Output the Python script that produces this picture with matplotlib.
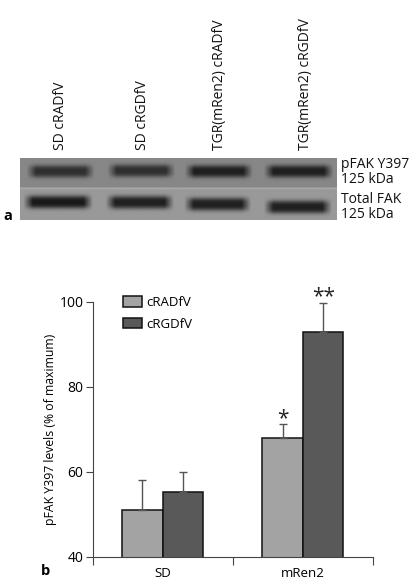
import numpy as np
import matplotlib
matplotlib.use("Agg")
import matplotlib.pyplot as plt

plt.rcParams["font.family"] = ["Open Sans", "DejaVu Sans"]

W, H = 418, 585

lane_labels = ["SD cRADfV", "SD cRGDfV", "TGR(mRen2) cRADfV", "TGR(mRen2) cRGDfV"]
blot_labels = ["pFAK Y397\n125 kDa", "Total FAK\n125 kDa"]
# band extents in blot fractions, darkness 0-1
band_start_p = [0.02, 0.275, 0.52, 0.77]
band_end_p = [0.235, 0.49, 0.735, 0.99]
band_dark_p = [0.8, 0.8, 0.95, 0.95]
band_mid_p = [0.43, 0.41, 0.43, 0.43]
band_start_t = [0.01, 0.27, 0.518, 0.77]
band_end_t = [0.23, 0.486, 0.73, 0.985]
band_dark_t = [1.0, 0.95, 0.95, 0.95]
band_mid_t = [0.42, 0.43, 0.49, 0.58]

groups = ["SD", "mRen2"]
cradfv = [51, 68]
crgdfv = [55.3, 92.8]
cradfv_err = [7, 3.3]
crgdfv_err = [4.7, 7]
stars = ["*", "**"]


def px_ax(x0, y0, x1, y1):
    return fig.add_axes([x0 / W, 1 - y1 / H, (x1 - x0) / W, (y1 - y0) / H])


def band_image(rows, cols, mids, half, starts, ends, darks):
    xx = np.linspace(0, 1, cols)
    yy = np.linspace(0, 1, rows)
    img = np.zeros((rows, cols))
    for s, e, d, m in zip(starts, ends, darks, mids):
        prof = np.clip((xx - s) / 0.03, 0, 1) * np.clip((e - xx) / 0.03, 0, 1)
        img += d * np.outer(np.exp(-(np.abs(yy - m) / half) ** 3), prof)
    return img


fig = plt.figure(figsize=(W / 100, H / 100), dpi=100)

# panel a: western blot
ax_blot = px_ax(20, 158, 337, 220)
top = band_image(100, 600, band_mid_p, 0.2, band_start_p, band_end_p, band_dark_p)
bottom = band_image(100, 600, band_mid_t, 0.21, band_start_t, band_end_t, band_dark_t)
blot = np.vstack([0.53 - 0.43 * top, 0.6 - 0.5 * bottom])
blot[95:101, :] = 0.66
ax_blot.imshow(blot, cmap="gray", vmin=0, vmax=1, aspect="auto", interpolation="bilinear")
ax_blot.axis("off")

for x, label in zip([60, 142, 219, 305], lane_labels):
    fig.text(x / W, 1 - 150 / H, label, rotation=90, ha="center", va="bottom", fontsize=10, color="#111111")
fig.text(341 / W, 1 - 172 / H, blot_labels[0], ha="left", va="center", fontsize=10, color="#111111", linespacing=1.05)
fig.text(341 / W, 1 - 207 / H, blot_labels[1], ha="left", va="center", fontsize=10, color="#111111", linespacing=1.05)
fig.text(3 / W, 1 - 216 / H, "a", fontsize=10.5, fontweight="bold", ha="left", va="center")

# panel b: bar chart
ax = px_ax(92.5, 301.7, 373, 557)
x = np.arange(len(groups)) + 0.5
width = 40.5 / 140.25
err_style = dict(ecolor="#555555", elinewidth=1, capsize=2.9, capthick=1)
ax.bar(x - width / 2, cradfv, width, color="#a3a3a3", edgecolor="#111111", linewidth=1.1,
       yerr=[[0, 0], cradfv_err], error_kw=err_style, label="cRADfV")
ax.bar(x + width / 2, crgdfv, width, color="#595959", edgecolor="#111111", linewidth=1.1,
       yerr=[[0, 0], crgdfv_err], error_kw=err_style, label="cRGDfV")

ax.set_xlim(0, 2)
ax.set_ylim(40, 100)
ax.set_yticks([40, 60, 80, 100])
ax.set_xticks([0, 1, 2])
ax.set_xticklabels([])
ax.set_xticks(x, minor=True)
ax.set_xticklabels(groups, minor=True, fontsize=9.5)
ax.tick_params(axis="x", which="minor", length=0, pad=7)
ax.tick_params(axis="x", which="major", direction="out", length=5.8, width=0.8, color="#444444")
ax.tick_params(axis="y", direction="out", length=5, width=0.8, color="#444444", labelsize=10, pad=1.5)
for side in ["top", "right"]:
    ax.spines[side].set_visible(False)
for side in ["left", "bottom"]:
    ax.spines[side].set_color("#444444")
    ax.spines[side].set_linewidth(0.8)
ax.set_ylabel("pFAK Y397 levels (% of maximum)", fontsize=8.8, labelpad=1.5)

ax.text(x[1] - width / 2, cradfv[1] + cradfv_err[1] - 1.2, stars[0], ha="center", va="bottom", fontsize=15, color="#222222")
ax.text(x[1] + width / 2, crgdfv[1] + crgdfv_err[1] - 1.2, stars[1], ha="center", va="bottom", fontsize=15, color="#222222", clip_on=False)

ax.legend(loc="upper left", bbox_to_anchor=(0.107, 1.022), frameon=False, fontsize=9.5,
          handlelength=1.45, handleheight=0.8, labelspacing=0.65, handletextpad=0.35, borderpad=0, borderaxespad=0)

fig.text(41 / W, 1 - 571 / H, "b", fontsize=10.5, fontweight="bold", ha="left", va="center")

fig.savefig("out.png", dpi=100)
